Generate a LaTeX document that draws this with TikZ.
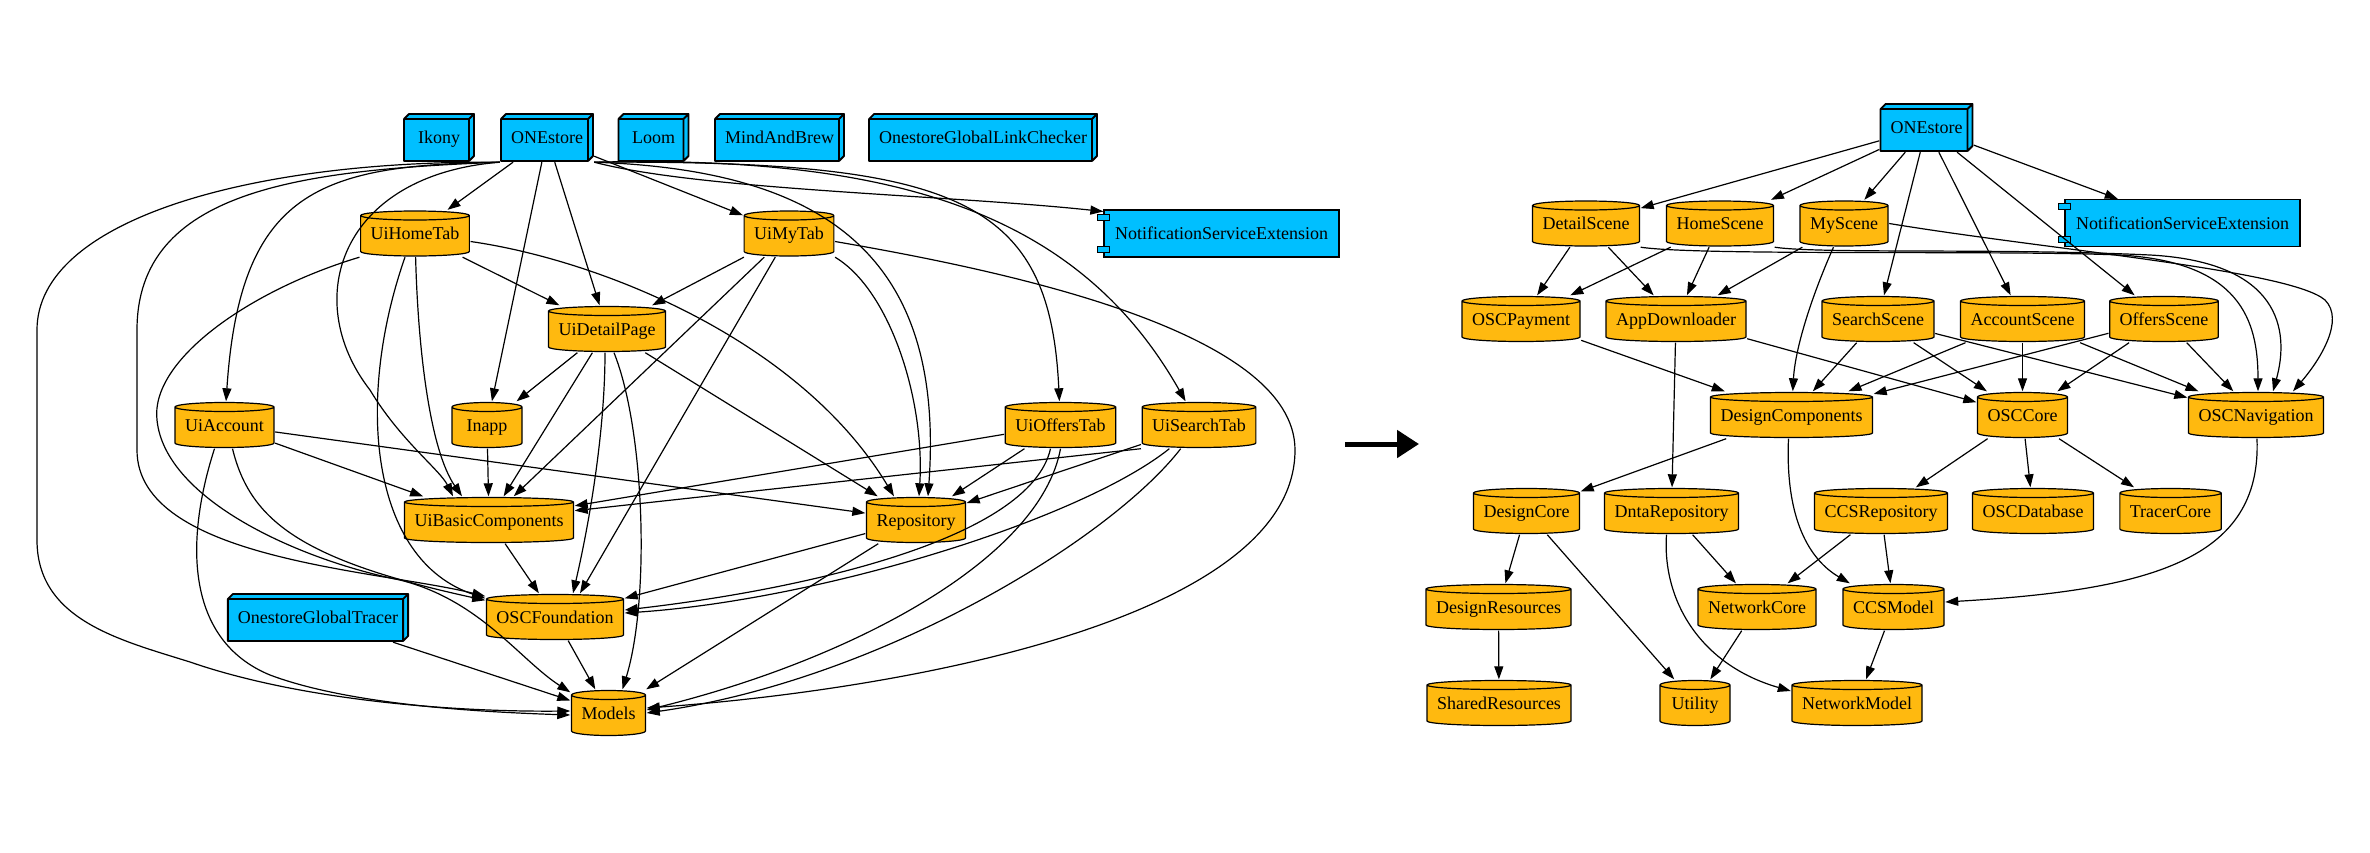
\documentclass[tikz,border=0pt]{standalone}
\usepackage{fontspec}
\setmainfont{Liberation Serif}
\usetikzlibrary{arrows.meta,calc}
\definecolor{boxblue}{HTML}{00BFFF}
\definecolor{cylorange}{HTML}{FFB90F}
\tikzset{
  cyl/.style={rectangle, minimum width=72, minimum height=47, inner xsep=11,
    text height=12, text depth=0,
    path picture={
      \draw[line width=1.2, fill=cylorange]
        let \p1=(path picture bounding box.south west),
            \p2=(path picture bounding box.north east),
            \n1={(\x2-\x1)/2-1} in
        (\x1+1pt,\y2-5.5pt) -- (\x1+1pt,\y1+5.5pt)
          arc[start angle=180, end angle=360, x radius=\n1*1pt, y radius=4.5pt]
          -- (\x2-1pt,\y2-5.5pt)
          arc[start angle=0, end angle=180, x radius=\n1*1pt, y radius=4.5pt] -- cycle
        (\x1+1pt,\y2-5.5pt)
          arc[start angle=180, end angle=360, x radius=\n1*1pt, y radius=4.5pt];
    }},
  box3d/.style={rectangle, minimum width=72, minimum height=49, inner xsep=11,
    text height=12, text depth=0,
    path picture={
      \draw[line width=1.8, fill=boxblue, line join=round]
        let \p1=(path picture bounding box.south west),
            \p2=(path picture bounding box.north east) in
        (\x1+1pt,\y1+1pt) rectangle (\x2-6pt,\y2-6pt)
        (\x1+1pt,\y2-6pt) -- (\x1+6pt,\y2-1pt) -- (\x2-1pt,\y2-1pt) -- (\x2-6pt,\y2-6pt) -- cycle
        (\x2-6pt,\y2-6pt) -- (\x2-1pt,\y2-1pt) -- (\x2-1pt,\y1+6pt) -- (\x2-6pt,\y1+1pt) -- cycle;
    }},
  comp/.style={rectangle, draw, line width=1.3, fill=boxblue, minimum height=47,
    inner xsep=11, text height=12, text depth=0},
  comptab/.style={draw, line width=1.2, fill=boxblue},
  dep/.style={-{Triangle[length=13pt,width=9pt]}, line width=1.2},
  bigarrow/.style={-{Triangle[length=22pt,width=27pt]}, line width=5},
}
\begin{document}
\begin{tikzpicture}[x=1pt, y=-1pt, font=\fontsize{18}{20}\selectfont]
  \useasboundingbox (0,0) rectangle (2370,852);

  \node[box3d] (ikony) at (439,137.5) {Ikony};
  \node[box3d] (onestoreL) at (547,137.5) {ONEstore};
  \node[box3d] (loom) at (653.5,137.5) {Loom};
  \node[box3d] (mindAndBrew) at (779.5,137.5) {MindAndBrew};
  \node[box3d] (linkChecker) at (983,137.5) {OnestoreGlobalLinkChecker};
  \node[comp] (nseL) at (1221.5,233.5) {NotificationServiceExtension};
  \node[cyl] (uiHomeTab) at (415,233.5) {UiHomeTab};
  \node[cyl] (uiMyTab) at (789,233.5) {UiMyTab};
  \node[cyl] (uiDetailPage) at (607,329) {UiDetailPage};
  \node[cyl] (uiAccount) at (224.5,425) {UiAccount};
  \node[cyl] (inapp) at (487,425) {Inapp};
  \node[cyl] (uiOffersTab) at (1060.5,425) {UiOffersTab};
  \node[cyl] (uiSearchTab) at (1199,425) {UiSearchTab};
  \node[cyl] (uiBasicComponents) at (489,520) {UiBasicComponents};
  \node[cyl] (repository) at (916,520) {Repository};
  \node[box3d] (globalTracer) at (318,617.5) {OnestoreGlobalTracer};
  \node[cyl] (oscFoundation) at (555,617) {OSCFoundation};
  \node[cyl] (models) at (608.5,713) {Models};

  \node[box3d] (onestoreR) at (1926.5,127.5) {ONEstore};
  \node[comp] (nseR) at (2182.5,223) {NotificationServiceExtension};
  \node[cyl] (detailScene) at (1586,223.5) {DetailScene};
  \node[cyl] (homeScene) at (1720,223.5) {HomeScene};
  \node[cyl] (myScene) at (1844,223.5) {MyScene};
  \node[cyl] (oscPayment) at (1521,319) {OSCPayment};
  \node[cyl] (appDownloader) at (1676,319) {AppDownloader};
  \node[cyl] (searchScene) at (1878,319) {SearchScene};
  \node[cyl] (accountScene) at (2022.5,319) {AccountScene};
  \node[cyl] (offersScene) at (2164,319) {OffersScene};
  \node[cyl] (designComponents) at (1791.5,415) {DesignComponents};
  \node[cyl] (oscCore) at (2022.5,415) {OSCCore};
  \node[cyl] (oscNavigation) at (2256,415) {OSCNavigation};
  \node[cyl] (designCore) at (1526.5,511) {DesignCore};
  \node[cyl] (dntaRepository) at (1671.5,511) {DntaRepository};
  \node[cyl] (ccsRepository) at (1881,511) {CCSRepository};
  \node[cyl] (oscDatabase) at (2033,511) {OSCDatabase};
  \node[cyl] (tracerCore) at (2170.5,511) {TracerCore};
  \node[cyl] (designResources) at (1498.5,607) {DesignResources};
  \node[cyl] (networkCore) at (1757,607) {NetworkCore};
  \node[cyl] (ccsModel) at (1893.5,607) {CCSModel};
  \node[cyl] (sharedResources) at (1499,703) {SharedResources};
  \node[cyl] (utility) at (1695,703) {Utility};
  \node[cyl] (networkModel) at (1857,703) {NetworkModel};

  \foreach \c in {nseL,nseR} {
    \draw[comptab] ([shift={(-6,5)}]\c.north west) rectangle ++(12,6);
    \draw[comptab] ([shift={(-6,-11)}]\c.south west) rectangle ++(12,6);
  }

  \foreach \a/\b in {onestoreL/uiHomeTab, onestoreL/uiDetailPage, onestoreL/inapp,
      onestoreL/uiMyTab, uiHomeTab/uiDetailPage, uiMyTab/uiDetailPage,
      uiMyTab/uiBasicComponents, uiDetailPage/inapp, uiDetailPage/uiBasicComponents,
      uiDetailPage/repository, uiAccount/uiBasicComponents, uiAccount/repository,
      inapp/uiBasicComponents, uiOffersTab/uiBasicComponents, uiOffersTab/repository,
      uiSearchTab/repository, uiBasicComponents/oscFoundation, repository/oscFoundation,
      repository/models, oscFoundation/models, globalTracer/models}
    \draw[dep] (\a) -- (\b);

  \draw[dep] (uiMyTab) -- ([xshift=25]oscFoundation.north);
  \draw[dep] (uiSearchTab.south west) -- (uiBasicComponents);
  \draw[dep] (onestoreL.south east) .. controls (700,190) and (950,195) .. ([yshift=22]nseL.west);
  \draw[dep] (onestoreL.south east) .. controls (830,170) and (945,260) .. ([xshift=12]repository.north);
  \draw[dep] (onestoreL.south east) .. controls (960,160) and (1050,200) .. (uiOffersTab);
  \draw[dep] (onestoreL.south east) .. controls (900,155) and (1080,215) .. (uiSearchTab);
  \draw[dep] (onestoreL.south west) .. controls (320,165) and (240,190) .. (uiAccount);
  \draw[dep] (onestoreL.south west) .. controls (340,175) and (300,300) .. (370,390)
    .. controls (400,440) and (440,470) .. ([xshift=-36]uiBasicComponents.north);
  \draw[dep] (onestoreL.south west) .. controls (300,170) and (137,190) .. (137,330) -- (137,450)
    .. controls (137,560) and (380,570) .. ([yshift=-3]oscFoundation.north west);
  \draw[dep] (onestoreL.south west) .. controls (250,160) and (37,220) .. (37,330) -- (37,540)
    .. controls (37,620) and (120,640) .. (190,662)
    .. controls (300,700) and (450,712) .. ([yshift=2]models.west);
  \draw[dep] ([yshift=-8]uiHomeTab.east) .. controls (600,260) and (800,340) .. ([xshift=-22]repository.north);
  \draw[dep] (uiHomeTab) .. controls (418,350) and (430,450) .. ([xshift=-27]uiBasicComponents.north);
  \draw[dep] ([xshift=-10]uiHomeTab.south) .. controls (355,400) and (370,560) .. ([yshift=-5]oscFoundation.north west);
  \draw[dep] (uiHomeTab.south west) .. controls (250,290) and (150,360) .. (157,420)
    .. controls (165,500) and (300,560) .. (400,580)
    .. controls (480,600) and (520,660) .. ([yshift=-3]models.north west);
  \draw[dep] (uiMyTab.south east) .. controls (890,290) and (925,400) .. ([xshift=3]repository.north);
  \draw[dep] ([yshift=-8]uiMyTab.east) .. controls (1000,270) and (1295,330) .. (1295,450)
    .. controls (1295,620) and (900,690) .. ([yshift=5]models.east);
  \draw[dep] ([xshift=-2]uiDetailPage.south) .. controls (605,430) and (590,520) .. ([xshift=18]oscFoundation.north);
  \draw[dep] ([xshift=7]uiDetailPage.south) .. controls (645,430) and (650,600) .. ([xshift=14]models.north);
  \draw[dep] ([xshift=8]uiAccount.south) .. controls (250,520) and (300,560) .. ([yshift=-7]oscFoundation.north west);
  \draw[dep] ([xshift=-10]uiAccount.south) .. controls (185,540) and (185,640) .. (270,675)
    .. controls (350,705) and (480,712) .. ([yshift=-2]models.west);
  \draw[dep] ([xshift=-10]uiOffersTab.south) .. controls (1030,540) and (800,590) .. ([yshift=7]oscFoundation.east);
  \draw[dep] (uiOffersTab.south) .. controls (1040,560) and (850,660) .. ([yshift=3]models.east);
  \draw[dep] (uiSearchTab) .. controls (1080,520) and (820,600) .. ([yshift=4]oscFoundation.east);
  \draw[dep] (uiSearchTab) .. controls (1110,540) and (880,680) .. (models.east);

  \coordinate (arrowTail) at (1345,444);
  \coordinate (arrowTip) at (1419,444);
  \draw[bigarrow] (arrowTail) -- (arrowTip);

  \foreach \a/\b in {onestoreR/detailScene, onestoreR/homeScene, onestoreR/myScene,
      onestoreR/searchScene, onestoreR/accountScene, onestoreR/offersScene, onestoreR/nseR,
      detailScene/oscPayment, detailScene/appDownloader, homeScene/oscPayment,
      homeScene/appDownloader, myScene/appDownloader, oscPayment/designComponents,
      appDownloader/oscCore, appDownloader/dntaRepository, searchScene/designComponents,
      searchScene/oscCore, searchScene/oscNavigation, accountScene/designComponents,
      accountScene/oscCore, accountScene/oscNavigation, offersScene/designComponents,
      offersScene/oscCore, offersScene/oscNavigation, designComponents/designCore,
      dntaRepository/networkCore, designCore/designResources, designCore/utility,
      designResources/sharedResources, ccsRepository/networkCore, ccsRepository/ccsModel,
      networkCore/utility, ccsModel/networkModel, oscCore/ccsRepository,
      oscCore/oscDatabase, oscCore/tracerCore}
    \draw[dep] (\a) -- (\b);

  \draw[dep] (myScene) .. controls (1810,300) and (1795,350) .. (designComponents);
  \draw[dep] (detailScene.south east) .. controls (1700,256) and (2000,250) .. (2120,255)
    .. controls (2240,262) and (2258,320) .. ([xshift=2]oscNavigation.north);
  \draw[dep] (homeScene.south east) .. controls (1820,254) and (2000,248) .. (2150,255)
    .. controls (2280,262) and (2290,330) .. ([xshift=17]oscNavigation.north);
  \draw[dep] (myScene.east) .. controls (2050,250) and (2290,270) .. (2325,300)
    .. controls (2345,320) and (2320,360) .. ([xshift=37]oscNavigation.north);
  \draw[dep] ([xshift=-3]designComponents.south) .. controls (1785,520) and (1810,560) .. ([xshift=8]ccsModel.north west);
  \draw[dep] ([xshift=-5]dntaRepository.south) .. controls (1662,600) and (1700,665) .. ([yshift=12]networkModel.west);
  \draw[dep] (oscNavigation) .. controls (2262,560) and (2150,590) .. ([yshift=5]ccsModel.east);
\end{tikzpicture}
\end{document}
